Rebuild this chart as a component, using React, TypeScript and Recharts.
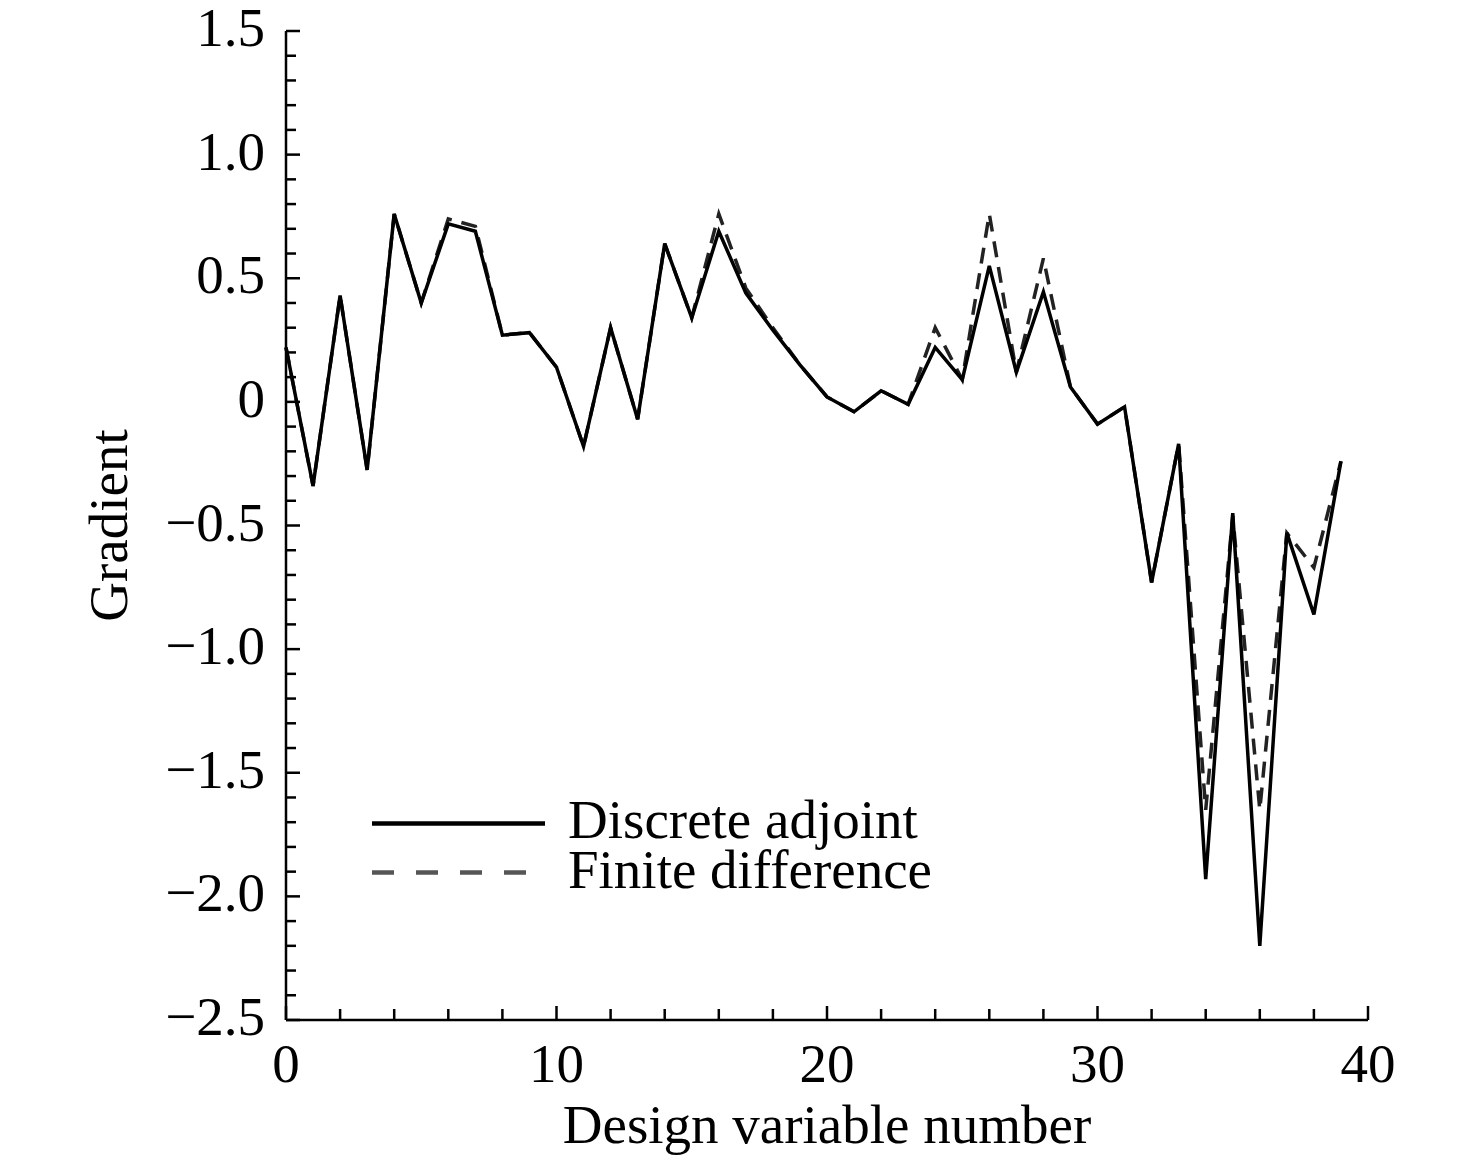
import React from 'react';
import { LineChart, Line, XAxis, YAxis, Legend } from 'recharts';

const designVars = [0, 1, 2, 3, 4, 5, 6, 7, 8, 9, 10, 11, 12, 13, 14, 15, 16, 17, 18, 19, 20, 21, 22, 23, 24, 25, 26, 27, 28, 29, 30, 31, 32, 33, 34, 35, 36, 37, 38, 39];

const discreteAdjoint = [0.22, -0.34, 0.43, -0.275, 0.76, 0.40, 0.72, 0.69, 0.27, 0.28, 0.14, -0.18, 0.30, -0.07, 0.64, 0.34, 0.69, 0.44, 0.29, 0.15, 0.02, -0.04, 0.045, -0.01, 0.22, 0.09, 0.55, 0.12, 0.445, 0.06, -0.09, -0.02, -0.73, -0.17, -1.93, -0.45, -2.20, -0.53, -0.86, -0.24];

const finiteDifference = [0.22, -0.34, 0.43, -0.275, 0.76, 0.40, 0.74, 0.71, 0.27, 0.28, 0.14, -0.18, 0.30, -0.07, 0.64, 0.34, 0.76, 0.46, 0.30, 0.15, 0.02, -0.04, 0.045, -0.01, 0.30, 0.09, 0.76, 0.12, 0.58, 0.06, -0.09, -0.02, -0.73, -0.17, -1.65, -0.46, -1.65, -0.53, -0.67, -0.24];

const xTicks = [0, 2, 4, 6, 8, 10, 12, 14, 16, 18, 20, 22, 24, 26, 28, 30, 32, 34, 36, 38, 40];
const xMajorLabels = ['0', '10', '20', '30', '40'];
const yTicks = [
  -2.5, -2.4, -2.3, -2.2, -2.1, -2.0, -1.9, -1.8, -1.7, -1.6, -1.5, -1.4, -1.3, -1.2, -1.1, -1.0,
  -0.9, -0.8, -0.7, -0.6, -0.5, -0.4, -0.3, -0.2, -0.1, 0, 0.1, 0.2, 0.3, 0.4, 0.5, 0.6, 0.7, 0.8,
  0.9, 1.0, 1.1, 1.2, 1.3, 1.4, 1.5,
];
const yMajorLabels: Record<string, string> = {
  '1.5': '1.5', '1': '1.0', '0.5': '0.5', '0': '0', '-0.5': '\u22120.5', '-1': '\u22121.0',
  '-1.5': '\u22121.5', '-2': '\u22122.0', '-2.5': '\u22122.5',
};

const seriesNames = ['Discrete adjoint', 'Finite difference'];

const data = designVars.map((v, i) => ({ x: v, da: discreteAdjoint[i], fd: finiteDifference[i] }));

const FONT = '"Liberation Serif", "Times New Roman", serif';
const FS = 55;

const XTick = (props: any) => {
  const { x, y, payload } = props;
  const v = payload.value;
  const label = xMajorLabels.find((l) => Number(l) === v);
  const major = label !== undefined;
  return (
    <g>
      <line x1={x} x2={x} y1={y} y2={y - (major ? 14 : 11)} stroke="#000" strokeWidth={2.5} />
      {major && (
        <text x={x} y={y + 62} textAnchor="middle" fontSize={FS} fontFamily={FONT} fill="#000">
          {label}
        </text>
      )}
    </g>
  );
};

const YTick = (props: any) => {
  const { x, y, payload } = props;
  const v = Math.round(payload.value * 10) / 10;
  const label = yMajorLabels[String(v)];
  const major = label !== undefined;
  return (
    <g>
      <line x1={x} x2={x + (major ? 14 : 10)} y1={y} y2={y} stroke="#000" strokeWidth={2.5} />
      {major && (
        <text x={x - 21} y={y + 15} textAnchor="end" fontSize={FS} fontFamily={FONT} fill="#000">
          {label}
        </text>
      )}
    </g>
  );
};

const renderXLabel = (props: any) => {
  const vb = props.viewBox || {};
  return (
    <text x={vb.x + vb.width / 2} y={vb.y + 123} textAnchor="middle" fontSize={FS} fontFamily={FONT} fill="#000">
      Design variable number
    </text>
  );
};

const renderYLabel = (props: any) => {
  const vb = props.viewBox || {};
  const cx = vb.x + vb.width - 159;
  const cy = vb.y + vb.height / 2;
  return (
    <text x={cx} y={cy} transform={`rotate(-90 ${cx} ${cy})`} textAnchor="middle" fontSize={FS} fontFamily={FONT} fill="#000">
      Gradient
    </text>
  );
};

const LegendContent = () => (
  <div style={{ fontFamily: FONT, fontSize: FS, color: '#000' }}>
    <div style={{ display: 'flex', alignItems: 'flex-start', height: 50 }}>
      <svg width={196} height={50}>
        <line x1={0} x2={173} y1={28.5} y2={28.5} stroke="#000" strokeWidth={4.5} />
      </svg>
      <span style={{ lineHeight: '50px', whiteSpace: 'nowrap' }}>{seriesNames[0]}</span>
    </div>
    <div style={{ display: 'flex', alignItems: 'flex-start', height: 50 }}>
      <svg width={196} height={50}>
        <line x1={0} x2={173} y1={27.5} y2={27.5} stroke="#555" strokeWidth={4.5} strokeDasharray="22 22" />
      </svg>
      <span style={{ lineHeight: '50px', whiteSpace: 'nowrap' }}>{seriesNames[1]}</span>
    </div>
  </div>
);

export default function App() {
  return (
    <div style={{ width: 1460, height: 1156, fontFamily: FONT }}>
      <LineChart width={1460} height={1156} data={data} margin={{ top: 23, right: 100, left: 218, bottom: 114 }}>
        <XAxis
          dataKey="x"
          type="number"
          domain={[0, 40]}
          ticks={xTicks}
          interval={0}
          height={30}
          tickSize={0}
          tickMargin={0}
          tickLine={false}
          axisLine={{ stroke: '#000', strokeWidth: 2.5 }}
          tick={<XTick />}
          label={renderXLabel}
        />
        <YAxis
          type="number"
          domain={[-2.5, 1.5]}
          ticks={yTicks}
          interval={0}
          width={60}
          tickSize={0}
          tickMargin={0}
          tickLine={false}
          axisLine={{ stroke: '#000', strokeWidth: 2.5 }}
          tick={<YTick />}
          label={renderYLabel}
          allowDataOverflow
        />
        <Legend
          layout="vertical"
          align="center"
          verticalAlign="middle"
          content={<LegendContent />}
          wrapperStyle={{ position: 'absolute', left: 364, top: 787, width: 'auto', height: 'auto' }}
        />
        <Line type="linear" dataKey="fd" name={seriesNames[1]} stroke="#222" strokeWidth={3.5} strokeDasharray="16 10" dot={false} isAnimationActive={false} />
        <Line type="linear" dataKey="da" name={seriesNames[0]} stroke="#000" strokeWidth={3.5} dot={false} isAnimationActive={false} />
      </LineChart>
    </div>
  );
}
